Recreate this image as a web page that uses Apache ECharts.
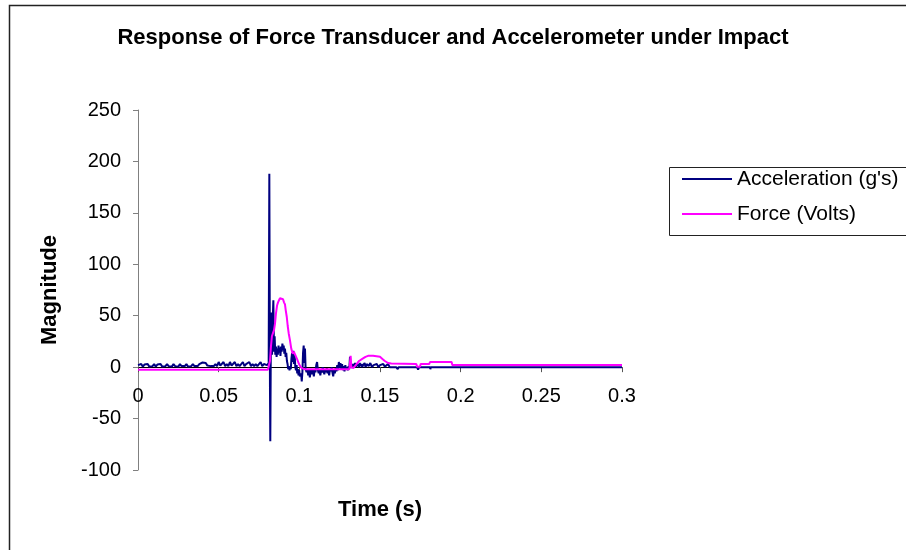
<!DOCTYPE html>
<html>
<head>
<meta charset="utf-8">
<title>Response of Force Transducer and Accelerometer under Impact</title>
<script src="https://cdn.jsdelivr.net/npm/echarts@6/dist/echarts.min.js"></script>
<style>
  html, body { margin: 0; padding: 0; background: #fff; }
  #chart { width: 906px; height: 550px; }
</style>
</head>
<body>
<div id="chart"></div>
<script>
// values: [time (s), magnitude]
const accelSeries = [
  [0, 2], [0.001, 1], [0.002, 3], [0.003, 0.5], [0.004, 2.5], [0.005, 1], [0.006, 3], [0.007, 0.5],
  [0.008, 2], [0.009, 1], [0.010, 3], [0.011, 0.5], [0.012, 2.5], [0.013, 1], [0.014, 3], [0.015, 0.5],
  [0.016, 2], [0.017, 1], [0.018, 3], [0.019, 1], [0.020, 2.5], [0.021, 0.5], [0.022, 3], [0.023, 1],
  [0.024, 2], [0.025, 0.5], [0.026, 3], [0.027, 1], [0.028, 2.5], [0.029, 1], [0.030, 3], [0.031, 0.5],
  [0.032, 2], [0.033, 1], [0.034, 3], [0.035, 1], [0.036, 2.5], [0.037, 1], [0.038, 3], [0.039, 2],
  [0.040, 4.5], [0.041, 3], [0.042, 4], [0.043, 1.5], [0.044, 3], [0.045, 1], [0.046, 2.5], [0.047, 1],
  [0.048, 3], [0.049, 1], [0.050, 5], [0.051, 1.5], [0.052, 3], [0.053, 5], [0.054, 1], [0.055, 3],
  [0.056, 1], [0.057, 5], [0.058, 1.5], [0.059, 3], [0.060, 5], [0.061, 1], [0.062, 3], [0.063, 1],
  [0.064, 2.5], [0.065, 5], [0.066, 1], [0.067, 3], [0.068, 1.5], [0.069, 5], [0.070, 1], [0.071, 3],
  [0.072, 1], [0.073, 3], [0.074, 1], [0.075, 2.5], [0.076, 5], [0.077, 1], [0.078, 3], [0.079, 1.5],
  [0.080, 2], [0.0806, 1], [0.0810, 4], [0.0814, 188], [0.0818, -20], [0.0820, -72], [0.0823, 10],
  [0.0827, 53], [0.0831, 12], [0.0835, 45], [0.0839, 65], [0.0843, 15], [0.0847, 30], [0.0851, 12],
  [0.0855, 20], [0.0859, 10], [0.0863, 18], [0.0867, 12], [0.0871, 21], [0.0875, 14], [0.0879, 19],
  [0.0883, 11], [0.0887, 20], [0.0891, 15], [0.0895, 23], [0.0899, 17], [0.0903, 21], [0.0907, 13],
  [0.0911, 18], [0.0915, 10], [0.0919, 14], [0.0923, 6], [0.0927, 3], [0.0931, -2], [0.0935, 1],
  [0.0939, -3], [0.0943, 0], [0.0947, -2], [0.0951, 8], [0.0955, 14], [0.0959, 5], [0.0963, 16],
  [0.0967, 3], [0.0971, 12], [0.0975, 0], [0.0979, -3], [0.0983, 2], [0.0987, -6], [0.0991, -2],
  [0.0995, -8], [0.0999, -3], [0.1003, -9], [0.1011, -6], [0.1015, -14], [0.1019, -5], [0.1023, 14],
  [0.1027, 21], [0.1031, 4], [0.1035, 18], [0.1039, -2], [0.1045, -5], [0.105, -2], [0.1055, -8],
  [0.106, -3], [0.1065, -10], [0.107, -4], [0.1075, -2], [0.108, -7], [0.1085, -3], [0.109, -9],
  [0.1095, -2], [0.110, -5], [0.1105, 2], [0.111, 5], [0.1115, -3], [0.112, -6], [0.1125, -2],
  [0.113, -8], [0.1135, -3], [0.114, -5], [0.1145, 0], [0.115, -4], [0.1155, -7], [0.116, -2],
  [0.1165, -5], [0.117, -1], [0.1175, -6], [0.118, -3], [0.1185, -8], [0.119, -2], [0.1195, -4],
  [0.120, 0], [0.1205, -5], [0.121, -9], [0.1215, -3], [0.122, -6], [0.1225, -1], [0.123, -4],
  [0.1235, 2], [0.124, -3], [0.1245, 5], [0.125, -1], [0.1255, 4], [0.126, -2], [0.1265, 3],
  [0.127, -3], [0.1275, 1], [0.128, -4], [0.1285, 2], [0.129, -2], [0.1295, 0], [0.130, -3],
  [0.1305, 1], [0.131, -1], [0.1314, 10], [0.1318, 2], [0.132, -1], [0.1325, 3], [0.133, 0],
  [0.1335, 3], [0.134, 1], [0.1345, 4], [0.135, 0], [0.1355, 3], [0.136, 1], [0.1365, 3], [0.137, 0],
  [0.1375, 4], [0.138, 1], [0.1385, 3], [0.139, 0], [0.1395, 2], [0.140, 1], [0.1405, 4], [0.141, 0],
  [0.142, 3], [0.143, 1], [0.144, 4], [0.145, 0], [0.146, 2], [0.147, 1], [0.148, 3], [0.149, 0],
  [0.150, 2], [0.151, 1], [0.152, 3], [0.153, 0.5], [0.154, 2], [0.155, 3], [0.156, 0], [0.160, 0],
  [0.161, -2], [0.1615, 0], [0.173, 0], [0.1736, -2.5], [0.1742, 0], [0.181, 0], [0.1812, -2],
  [0.1815, 0], [0.3, 0]
]

const forceSeries = [
  [0, -2.5], [0.0805, -2.5], [0.0812, 2], [0.0818, 6], [0.0824, 20], [0.0830, 30], [0.0837, 29],
  [0.0843, 36], [0.0849, 42], [0.0855, 52], [0.0862, 60], [0.0868, 63], [0.0874, 65], [0.0880, 67],
  [0.0891, 67], [0.0899, 66], [0.0905, 63], [0.0911, 61], [0.0916, 55], [0.0922, 49], [0.0928, 40],
  [0.0934, 33], [0.0942, 26], [0.0950, 18], [0.0959, 13], [0.0966, 15], [0.0973, 16], [0.0980, 10],
  [0.0988, 7], [0.0995, 4], [0.1005, 1], [0.1015, -1], [0.1035, -2], [0.131, -2], [0.1318, 11],
  [0.1322, 0], [0.1335, -1], [0.1345, 1], [0.1355, 3], [0.137, 6], [0.139, 8], [0.141, 10],
  [0.1426, 11], [0.1457, 11], [0.150, 10], [0.1515, 8], [0.153, 6], [0.155, 4], [0.157, 3.5],
  [0.1725, 3], [0.173, 0.5], [0.1748, 0.5], [0.1752, 3], [0.1805, 3], [0.181, 5], [0.1944, 5],
  [0.1948, 2], [0.3, 2]
]

const seriesNames = ["Acceleration (g's)", 'Force (Volts)']
const seriesColors = ['#000080', '#FF00FF']

const yMin = -100
const yMax = 250

const chart = echarts.init(document.getElementById('chart'), null, { renderer: 'canvas' })

const fontFamily = '"Liberation Sans", Arial, sans-serif'
const gridTop = 110
const gridBottom = 80
// the time axis crosses the magnitude axis at 0, labels sit right under it
const plotHeight = 550 - gridTop - gridBottom
const zeroOffset = -plotHeight * (0 - yMin) / (yMax - yMin)

chart.setOption({
  animation: false,
  backgroundColor: '#fff',
  textStyle: { fontFamily: fontFamily },
  title: {
    text: 'Response of Force Transducer and Accelerometer under Impact',
    left: 'center',
    top: 22,
    textStyle: { fontSize: 22, fontWeight: 'bold', color: '#000', fontFamily: fontFamily }
  },
  // chart frame and legend box, both cut off on the right like the reference
  graphic: [{
    type: 'rect',
    shape: { x: 9.5, y: 5.5, width: 1000, height: 600 },
    style: { fill: 'none', stroke: '#222', lineWidth: 1.5 },
    silent: true
  }, {
    type: 'rect',
    shape: { x: 669.5, y: 167.5, width: 300, height: 68 },
    style: { fill: '#fff', stroke: '#222', lineWidth: 1 },
    silent: true,
    z: 0
  }],
  legend: {
    orient: 'vertical',
    left: 677,
    top: 163,
    icon: 'rect',
    itemWidth: 50,
    itemHeight: 2,
    itemGap: 13,
    z: 5,
    textStyle: { fontSize: 21, color: '#000', lineHeight: 22, fontFamily: fontFamily },
    data: seriesNames
  },
  grid: { left: 138, right: 284, top: gridTop, bottom: gridBottom, containLabel: false, outerBoundsMode: 'none' },
  xAxis: {
    type: 'value',
    position: 'bottom',
    offset: zeroOffset,
    min: 0,
    max: 0.3,
    interval: 0.05,
    name: 'Time (s)',
    nameLocation: 'middle',
    nameGap: 132,
    nameTextStyle: { fontSize: 22, fontWeight: 'bold', color: '#000' },
    axisLine: { onZero: false, lineStyle: { color: '#000', width: 1 } },
    axisTick: { show: true, inside: false, length: 5, lineStyle: { color: '#555' } },
    axisLabel: { fontSize: 20, color: '#000', margin: 19 },
    splitLine: { show: false }
  },
  yAxis: {
    type: 'value',
    min: yMin,
    max: yMax,
    interval: 50,
    name: 'Magnitude',
    nameLocation: 'middle',
    nameRotate: 90,
    nameGap: 77,
    nameTextStyle: { fontSize: 22, fontWeight: 'bold', color: '#000' },
    axisLine: { show: true, lineStyle: { color: '#808080', width: 1 } },
    axisTick: { show: true, inside: false, length: 5, lineStyle: { color: '#808080' } },
    axisLabel: { fontSize: 20, color: '#000', margin: 17 },
    splitLine: { show: false }
  },
  series: [{
    name: seriesNames[0],
    type: 'line',
    data: accelSeries,
    symbol: 'none',
    color: seriesColors[0],
    lineStyle: { width: 2, color: seriesColors[0] }
  }, {
    name: seriesNames[1],
    type: 'line',
    data: forceSeries,
    symbol: 'none',
    color: seriesColors[1],
    lineStyle: { width: 2, color: seriesColors[1] }
  }]
})
</script>
</body>
</html>
